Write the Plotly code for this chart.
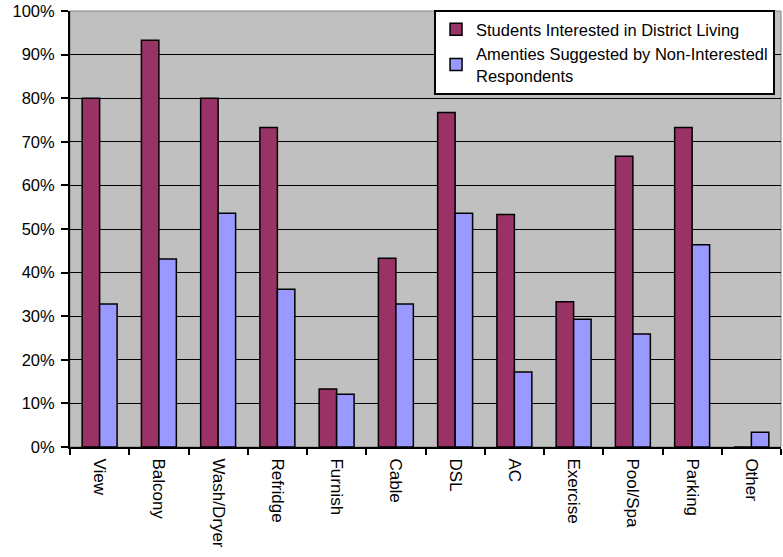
import plotly.graph_objects as go

categories = ["View", "Balcony", "Wash/Dryer", "Refridge", "Furnish", "Cable",
              "DSL", "AC", "Exercise", "Pool/Spa", "Parking", "Other"]
interested = [80.0, 93.3, 80.0, 73.3, 13.3, 43.3, 76.7, 53.3, 33.3, 66.7, 73.3, 0.0]
non_interested = [32.8, 43.1, 53.6, 36.2, 12.1, 32.8, 53.6, 17.2, 29.3, 25.9, 46.4, 3.4]
y_ticks = list(range(0, 101, 10))
y_tick_labels = [f"{v}%" for v in y_ticks]

name1 = "Students Interested in District Living"
name2 = "Amenties Suggested by Non-Interestedl<br>Respondents"

fig = go.Figure()
fig.add_trace(go.Bar(x=categories, y=interested, name=name1,
                     marker=dict(color="#993366", line=dict(color="black", width=1.5))))
fig.add_trace(go.Bar(x=categories, y=non_interested, name=name2,
                     marker=dict(color="#9999FF", line=dict(color="black", width=1.5))))

font = "Liberation Sans, Arial, sans-serif"
fig.update_layout(
    width=783, height=557,
    margin=dict(l=70, r=2, t=11, b=110),
    paper_bgcolor="white", plot_bgcolor="#C0C0C0",
    barmode="group", bargap=0.41, bargroupgap=0,
    font=dict(family=font, size=16, color="black"),
    showlegend=True,
    legend=dict(x=0.512, y=1.002, xanchor="left", yanchor="top",
                bgcolor="white", bordercolor="black", borderwidth=2,
                font=dict(size=16.5), tracegroupgap=3, itemwidth=30),
    xaxis=dict(type="category", showgrid=False, ticks="outside", tickson="boundaries",
               ticklen=6, tickwidth=2, tickcolor="black", tickangle=90,
               ticklabelstandoff=6,
               showline=True, linecolor="black", linewidth=2,
               tickfont=dict(size=17), zeroline=False),
    yaxis=dict(range=[0, 100], tickvals=y_ticks, ticktext=y_tick_labels,
               showgrid=True, gridcolor="black", gridwidth=1,
               ticks="outside", ticklen=7, tickwidth=2, tickcolor="black",
               ticklabelstandoff=3,
               showline=True, linecolor="black", linewidth=2, zeroline=False,
               tickfont=dict(size=16.5)),
    shapes=[dict(type="rect", xref="paper", yref="paper", x0=0, x1=1, y0=0, y1=1,
                 line=dict(color="#808080", width=1), layer="below")],
)

fig.write_html("out.html")
